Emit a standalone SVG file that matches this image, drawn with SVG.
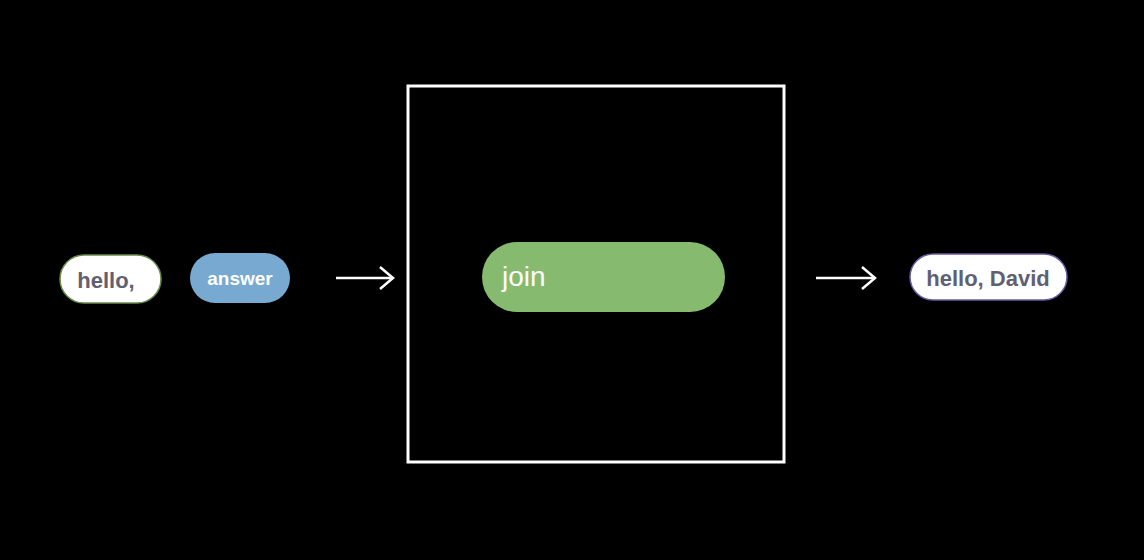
<svg xmlns="http://www.w3.org/2000/svg" width="1144" height="560" viewBox="0 0 1144 560">
<style>
.lbl{font-family:"Liberation Sans",Arial,sans-serif;font-weight:bold;}
.dark{fill:#5f6072;}
.conn{stroke:#ffffff;stroke-width:2.5;fill:none;}
</style>
<defs>
<marker id="ah" markerWidth="16" markerHeight="26" refX="14" refY="12" orient="auto" markerUnits="userSpaceOnUse">
<path d="M1,1 L14,12 L1,23" fill="none" stroke="#ffffff" stroke-width="2.5" stroke-linejoin="miter"/>
</marker>
</defs>
<rect width="1144" height="560" fill="#000000"/>
<g id="n-hello">
<rect x="60" y="255" width="101" height="48" rx="24" fill="#ffffff" stroke="#6a8a4a" stroke-width="1.5"/>
<text x="106" y="288" class="lbl dark" font-size="22" text-anchor="middle">hello,</text>
</g>
<g id="n-answer">
<rect x="190" y="253" width="100" height="50" rx="25" fill="#78a9d0"/>
<text x="240" y="285" class="lbl" fill="#ffffff" font-size="19" text-anchor="middle">answer</text>
</g>
<g id="n-box">
<rect x="408" y="86" width="376" height="376" fill="none" stroke="#ffffff" stroke-width="3"/>
</g>
<g id="n-join">
<rect x="482" y="242" width="243" height="70" rx="35" fill="#86bb6f"/>
<text x="502" y="286" font-family="Liberation Sans,Arial,sans-serif" font-size="28" fill="#ffffff">join</text>
</g>
<g id="n-result">
<rect x="910" y="254" width="157" height="46" rx="23" fill="#ffffff" stroke="#6a5aa0" stroke-width="1.5"/>
<text x="988" y="286" class="lbl dark" font-size="22" text-anchor="middle">hello, David</text>
</g>
<g id="connectors">
<line class="conn" x1="336" y1="278" x2="393" y2="278" marker-end="url(#ah)"/>
<line class="conn" x1="816" y1="278" x2="875" y2="278" marker-end="url(#ah)"/>
</g>
</svg>
